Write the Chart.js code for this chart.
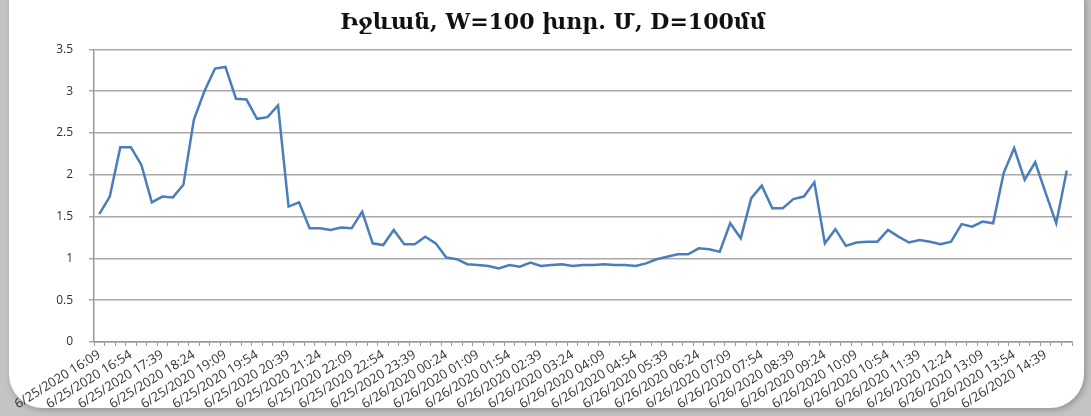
<!DOCTYPE html>
<html>
<head>
<meta charset="utf-8">
<script src="https://cdn.jsdelivr.net/npm/chart.js@4/dist/chart.umd.min.js"></script>
<style>
  html, body { margin: 0; padding: 0; }
  body { width: 1091px; height: 416px; background: #c4c4c4; position: relative; overflow: hidden; }
  #frame {
    position: absolute; left: 9px; top: -30px; width: 1075px; height: 438px;
    background: #fff; border-radius: 34px; box-shadow: 2px 2px 6px rgba(0,0,0,0.25);
  }
  #wrap { position: absolute; left: 0; top: 0; width: 1091px; height: 416px; }
</style>
</head>
<body>
<div id="frame"></div>
<div id="wrap"><canvas id="chart" width="1091" height="416"></canvas></div>
<script>
// times of the readings (every 15 minutes)
const times25 = ["16:09","16:24","16:39","16:54","17:09","17:24","17:39","17:54","18:09","18:24","18:39","18:54",
  "19:09","19:24","19:39","19:54","20:09","20:24","20:39","20:54","21:09","21:24","21:39","21:54",
  "22:09","22:24","22:39","22:54","23:09","23:24","23:39","23:54"];
const times26 = ["00:09","00:24","00:39","00:54","01:09","01:24","01:39","01:54","02:09","02:24","02:39","02:54",
  "03:09","03:24","03:39","03:54","04:09","04:24","04:39","04:54","05:09","05:24","05:39","05:54",
  "06:09","06:24","06:39","06:54","07:09","07:24","07:39","07:54","08:09","08:24","08:39","08:54",
  "09:09","09:24","09:39","09:54","10:09","10:24","10:39","10:54","11:09","11:24","11:39","11:54",
  "12:09","12:24","12:39","12:54","13:09","13:24","13:39","13:54","14:09","14:24","14:39","14:54","15:09"];
const labels = times25.map(t => "6/25/2020 " + t).concat(times26.map(t => "6/26/2020 " + t));

const values = [
  1.53, 1.74, 2.33, 2.33, 2.12, 1.67, 1.74, 1.73, 1.88, 2.66,
  3.00, 3.27, 3.29, 2.91, 2.90, 2.67, 2.69, 2.83, 1.62, 1.67,
  1.36, 1.36, 1.34, 1.37, 1.36, 1.56, 1.18, 1.16, 1.34, 1.17,
  1.17, 1.26, 1.18, 1.01, 0.99, 0.93, 0.92, 0.91, 0.88, 0.92,
  0.90, 0.95, 0.91, 0.92, 0.93, 0.91, 0.92, 0.92, 0.93, 0.92,
  0.92, 0.91, 0.94, 0.99, 1.02, 1.05, 1.05, 1.12, 1.11, 1.08,
  1.42, 1.24, 1.72, 1.87, 1.60, 1.60, 1.71, 1.74, 1.91, 1.18,
  1.35, 1.15, 1.19, 1.20, 1.20, 1.34, 1.26, 1.19, 1.22, 1.20,
  1.17, 1.20, 1.41, 1.38, 1.44, 1.42, 2.02, 2.32, 1.94, 2.15,
  1.78, 1.42, 2.05
];

const titleText = "Իջևան, W=100 խոր. Մ, D=100մմ";

const ctx = document.getElementById("chart").getContext("2d");
new Chart(ctx, {
  type: "line",
  data: {
    labels: labels,
    datasets: [{
      data: values,
      borderColor: "#4a7ebb",
      borderWidth: 2.5,
      pointRadius: 0,
      tension: 0,
      fill: false
    }]
  },
  options: {
    responsive: false,
    animation: false,
    layout: { padding: { left: 34, right: 19, top: 10, bottom: 0 } },
    plugins: {
      legend: { display: false },
      tooltip: { enabled: false },
      title: {
        display: true,
        text: titleText,
        color: "#111",
        font: { family: "'DejaVu Serif', serif", size: 22, weight: "bold" },
        padding: { top: 0, bottom: 13 }
      }
    },
    scales: {
      x: {
        offset: true,
        afterFit: (s) => { s.height = 74; },
        grid: { display: true, drawOnChartArea: false, drawTicks: true, tickLength: 4, color: "#999", offset: true },
        border: { color: "#999", width: 1.5 },
        ticks: {
          autoSkip: false,
          minRotation: 32,
          maxRotation: 32,
          color: "#333",
          font: { family: "'Open Sans', sans-serif", size: 13 },
          padding: 1,
          callback: function (val, i) { return i % 3 === 0 ? this.getLabelForValue(val) : ""; }
        }
      },
      y: {
        min: 0,
        max: 3.5,
        afterFit: (s) => { s.width = 60; },
        grid: { color: "#a8a8a8", lineWidth: 1.5, drawTicks: true, tickLength: 5 },
        border: { color: "#999", width: 1.5 },
        ticks: {
          stepSize: 0.5,
          color: "#333",
          font: { family: "'Open Sans', sans-serif", size: 12 },
          padding: 16,
          callback: (v) => String(v)
        }
      }
    }
  }
});
</script>
</body>
</html>
